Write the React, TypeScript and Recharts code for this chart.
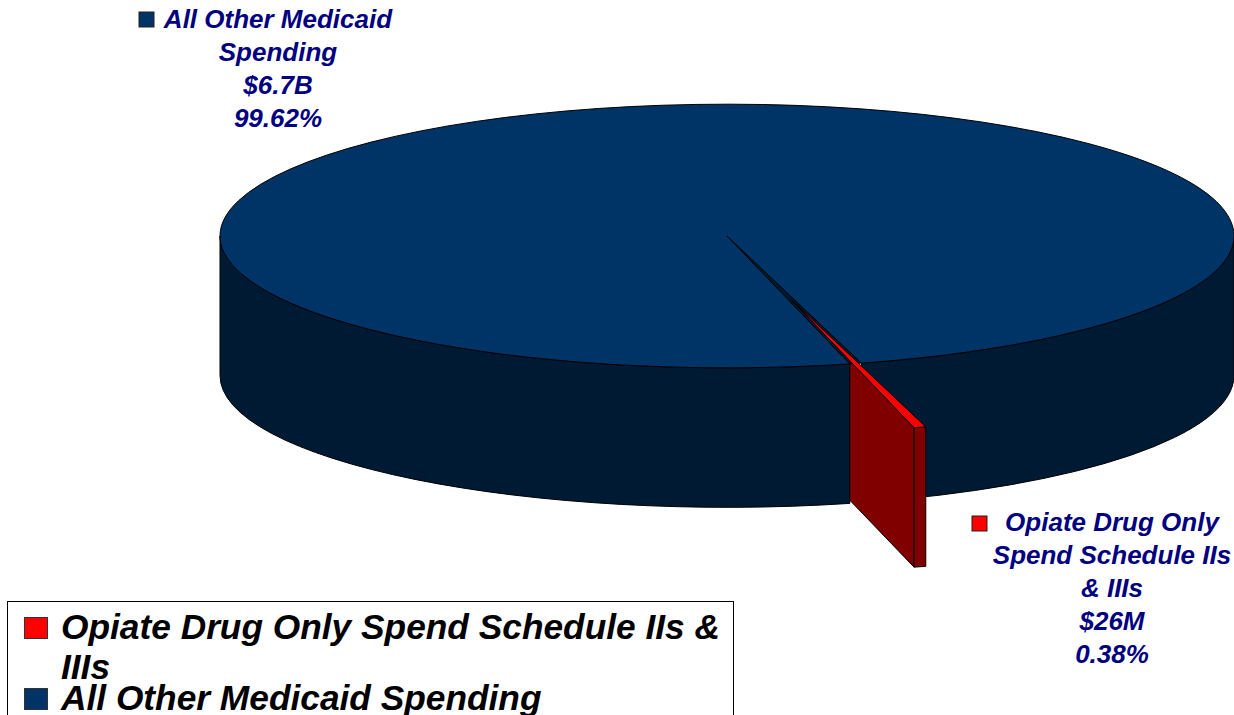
import { PieChart, Pie, Legend } from "recharts";

const categories = ["All Other Medicaid Spending", "Opiate Drug Only Spend Schedule IIs & IIIs"];
const shares = [99.62, 0.38];
const labelLines = [
  ["All Other Medicaid", "Spending", "$6.7B", "99.62%"],
  ["Opiate Drug Only", "Spend Schedule IIs", "& IIIs", "$26M", "0.38%"],
];
const topColors = ["#003366", "#ff0000"];
const wallColors = ["#001a33", "#800000"];

const data = categories.map((name, i) => ({ name, value: shares[i], fill: topColors[i] }));

// flattening of the disc and height of its wall
const TILT = 0.26;
const DEPTH = 139.5;
// how far the small slice is pulled out, in pie radius units
const EXPLODE = 0.5;
const START = -74.62;
const OUTLINE = { stroke: "#000", strokeWidth: 1, strokeLinejoin: "round" as const };

function geom(props: any) {
  const { cx, cy, outerRadius: r, startAngle, endAngle, index } = props;
  const mid = ((startAngle + endAngle) / 2) * (Math.PI / 180);
  const off = index === 1 ? EXPLODE * r : 0;
  const ox = cx + off * Math.cos(mid);
  const oy = cy - off * Math.sin(mid) * TILT;
  const pt = (deg: number, dy = 0) => {
    const a = (deg * Math.PI) / 180;
    return `${ox + r * Math.cos(a)} ${oy - r * TILT * Math.sin(a) + dy}`;
  };
  const ry = r * TILT;
  const wall = (from: number, to: number) =>
    `M${pt(from)} A${r} ${ry} 0 0 0 ${pt(to)} L${pt(to, DEPTH)} A${r} ${ry} 0 0 1 ${pt(from, DEPTH)} Z`;
  return { ox, oy, r, ry, pt, wall };
}

// back layer: right part of the big wall, then the inner wall of the small slice
function WallSector(props: any) {
  const { startAngle, index } = props;
  const { ox, oy, pt, wall } = geom(props);
  if (index === 0) return <path d={wall(startAngle, 0)} fill={wallColors[0]} {...OUTLINE} />;
  const p = `M${ox} ${oy} L${pt(startAngle)} L${pt(startAngle, DEPTH)} L${ox} ${oy + DEPTH} Z`;
  return <path d={p} fill={wallColors[1]} {...OUTLINE} />;
}

// front layer: left part of the big wall and the top faces
function TopSector(props: any) {
  const { startAngle, endAngle, index } = props;
  const { ox, oy, r, ry, pt, wall } = geom(props);
  if (index === 0) {
    return (
      <g>
        <path d={`M${ox} ${oy} L${pt(endAngle)} A${r} ${ry} 0 0 0 ${pt(startAngle)} Z`} fill={wallColors[0]} {...OUTLINE} />
        <path d={wall(180, endAngle)} fill={wallColors[0]} {...OUTLINE} />
        <path d={`M${ox} ${oy} L${pt(startAngle)} A${r} ${ry} 0 1 0 ${pt(endAngle)} Z`} fill={topColors[0]} {...OUTLINE} />
      </g>
    );
  }
  return (
    <g>
      <path d={wall(endAngle, startAngle)} fill={wallColors[1]} {...OUTLINE} />
      <path d={`M${ox} ${oy} L${pt(startAngle)} A${r} ${ry} 0 0 0 ${pt(endAngle)} Z`} fill={topColors[1]} {...OUTLINE} />
    </g>
  );
}

const labelStyle = { fontFamily: "'Liberation Sans', Arial, sans-serif", fontWeight: 700, fontStyle: "italic", fontSize: 26, fill: "#000080" };
const labelCenter = [278, 1112];
const labelBaseline = [28, 531];
const labelStep = 33;
const keyBox = [[139, 12], [972, 516]];

function SliceLabel({ index }: any) {
  return (
    <g>
      <rect x={keyBox[index][0]} y={keyBox[index][1]} width={15} height={15} fill={topColors[index]} stroke="#222" />
      {labelLines[index].map((line, i) => (
        <text key={line} x={labelCenter[index]} y={labelBaseline[index] + i * labelStep} textAnchor="middle" {...labelStyle}>
          {line}
        </text>
      ))}
    </g>
  );
}

function LegendBox() {
  // red entry first, as in the original legend
  const items = [1, 0];
  return (
    <div style={{ boxSizing: "border-box", width: 727, height: 130, border: "1px solid #000", background: "#fff", position: "relative", fontFamily: "'Liberation Sans', Arial, sans-serif", fontWeight: 700, fontStyle: "italic", fontSize: 35.3, color: "#000" }}>
      {items.map((k, i) => (
        <div key={k} style={{ position: "absolute", left: 16, top: i === 0 ? 5 : 76, display: "flex", width: 700 }}>
          <span style={{ flex: "none", width: 22, height: 20, marginTop: 10, background: topColors[k], border: "1px solid #333" }} />
          <span style={{ marginLeft: 13, lineHeight: "40px" }}>{categories[k]}</span>
        </div>
      ))}
    </div>
  );
}

export default function App() {
  const pieProps = {
    data,
    dataKey: "value",
    nameKey: "name",
    cx: 727,
    cy: 236,
    outerRadius: 507,
    startAngle: START,
    endAngle: START + 360,
    isAnimationActive: false,
  };
  return (
    <div style={{ position: "absolute", left: 0, top: 0, width: 1234, height: 715, overflow: "hidden", background: "#fff" }}>
      <PieChart width={1234} height={715} margin={{ top: 0, right: 0, bottom: 0, left: 0 }}>
        <Pie {...pieProps} legendType="none" shape={WallSector} />
        <Pie {...pieProps} shape={TopSector} label={SliceLabel} labelLine={false} />
        <Legend content={LegendBox} wrapperStyle={{ position: "absolute", left: 7, top: 601, width: 727, bottom: "auto" }} />
      </PieChart>
    </div>
  );
}
